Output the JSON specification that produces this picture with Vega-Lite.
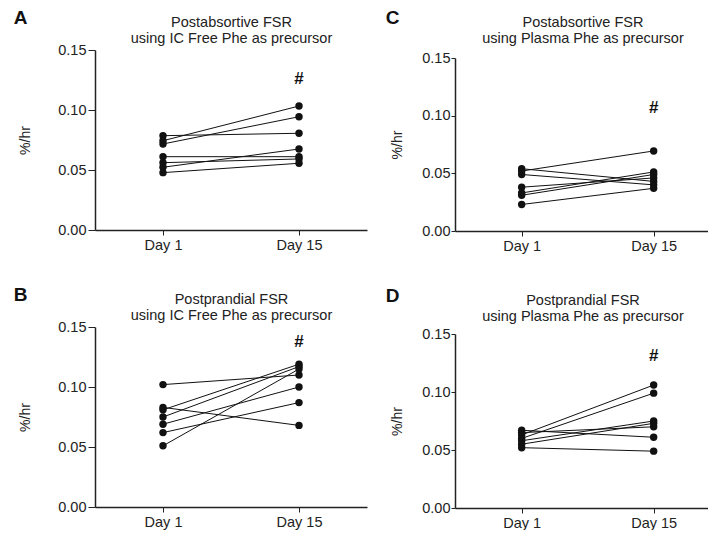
{
  "$schema": "https://vega.github.io/schema/vega-lite/v6.json",
  "padding": {"top": 9, "left": 13, "right": 0, "bottom": 0},
  "background": "white",
  "config": {
    "font": "Liberation Sans",
    "view": {"stroke": null},
    "axis": {"grid": false, "labelFont": "Liberation Sans", "titleFont": "Liberation Sans", "labelColor": "#222", "titleColor": "#222", "domainColor": "#222", "tickColor": "#222", "titleFontWeight": "normal", "labelFontSize": 14.5, "titleFontSize": 14},
    "title": {"font": "Liberation Sans", "color": "#111"}
  },
  "datasets": {
    "A": [
      {"subject": 1, "day": "Day 1", "fsr": 0.0786}, {"subject": 1, "day": "Day 15", "fsr": 0.0806},
      {"subject": 2, "day": "Day 1", "fsr": 0.0744}, {"subject": 2, "day": "Day 15", "fsr": 0.1033},
      {"subject": 3, "day": "Day 1", "fsr": 0.0717}, {"subject": 3, "day": "Day 15", "fsr": 0.0944},
      {"subject": 4, "day": "Day 1", "fsr": 0.0611}, {"subject": 4, "day": "Day 15", "fsr": 0.0611},
      {"subject": 5, "day": "Day 1", "fsr": 0.0561}, {"subject": 5, "day": "Day 15", "fsr": 0.0592},
      {"subject": 6, "day": "Day 1", "fsr": 0.0523}, {"subject": 6, "day": "Day 15", "fsr": 0.0675},
      {"subject": 7, "day": "Day 1", "fsr": 0.0478}, {"subject": 7, "day": "Day 15", "fsr": 0.0556}
    ],
    "B": [
      {"subject": 1, "day": "Day 1", "fsr": 0.102}, {"subject": 1, "day": "Day 15", "fsr": 0.110},
      {"subject": 2, "day": "Day 1", "fsr": 0.083}, {"subject": 2, "day": "Day 15", "fsr": 0.068},
      {"subject": 3, "day": "Day 1", "fsr": 0.081}, {"subject": 3, "day": "Day 15", "fsr": 0.119},
      {"subject": 4, "day": "Day 1", "fsr": 0.075}, {"subject": 4, "day": "Day 15", "fsr": 0.117},
      {"subject": 5, "day": "Day 1", "fsr": 0.069}, {"subject": 5, "day": "Day 15", "fsr": 0.100},
      {"subject": 6, "day": "Day 1", "fsr": 0.062}, {"subject": 6, "day": "Day 15", "fsr": 0.087},
      {"subject": 7, "day": "Day 1", "fsr": 0.051}, {"subject": 7, "day": "Day 15", "fsr": 0.115}
    ],
    "C": [
      {"subject": 1, "day": "Day 1", "fsr": 0.052}, {"subject": 1, "day": "Day 15", "fsr": 0.0694},
      {"subject": 2, "day": "Day 1", "fsr": 0.054}, {"subject": 2, "day": "Day 15", "fsr": 0.043},
      {"subject": 3, "day": "Day 1", "fsr": 0.049}, {"subject": 3, "day": "Day 15", "fsr": 0.040},
      {"subject": 4, "day": "Day 1", "fsr": 0.038}, {"subject": 4, "day": "Day 15", "fsr": 0.046},
      {"subject": 5, "day": "Day 1", "fsr": 0.033}, {"subject": 5, "day": "Day 15", "fsr": 0.0512},
      {"subject": 6, "day": "Day 1", "fsr": 0.031}, {"subject": 6, "day": "Day 15", "fsr": 0.049},
      {"subject": 7, "day": "Day 1", "fsr": 0.023}, {"subject": 7, "day": "Day 15", "fsr": 0.037}
    ],
    "D": [
      {"subject": 1, "day": "Day 1", "fsr": 0.067}, {"subject": 1, "day": "Day 15", "fsr": 0.061},
      {"subject": 2, "day": "Day 1", "fsr": 0.065}, {"subject": 2, "day": "Day 15", "fsr": 0.070},
      {"subject": 3, "day": "Day 1", "fsr": 0.063}, {"subject": 3, "day": "Day 15", "fsr": 0.106},
      {"subject": 4, "day": "Day 1", "fsr": 0.060}, {"subject": 4, "day": "Day 15", "fsr": 0.099},
      {"subject": 5, "day": "Day 1", "fsr": 0.058}, {"subject": 5, "day": "Day 15", "fsr": 0.075},
      {"subject": 6, "day": "Day 1", "fsr": 0.055}, {"subject": 6, "day": "Day 15", "fsr": 0.073},
      {"subject": 7, "day": "Day 1", "fsr": 0.052}, {"subject": 7, "day": "Day 15", "fsr": 0.049}
    ],
    "hashA": [{"day": "Day 15", "fsr": 0.1256, "label": "#"}],
    "hashB": [{"day": "Day 15", "fsr": 0.1375, "label": "#"}],
    "hashC": [{"day": "Day 15", "fsr": 0.1068, "label": "#"}],
    "hashD": [{"day": "Day 15", "fsr": 0.131, "label": "#"}]
  },
  "spacing": 18,
  "hconcat": [
    {
      "spacing": 34,
      "vconcat": [
        {
          "width": 272, "height": 180,
          "title": {"text": "A", "anchor": "start", "frame": "bounds", "fontSize": 19, "fontWeight": "bold", "offset": -14, "dx": -5},
          "layer": [
            {"data": {"name": "A"}, "mark": {"type": "line", "color": "#111", "strokeWidth": 1},
             "encoding": {
               "x": {"field": "day", "type": "ordinal", "scale": {"domain": ["Day 1", "Day 15"], "padding": 0.5}, "axis": {"title": null, "labelAngle": 0, "tickSize": 5, "labelPadding": 3, "domainWidth": 1.5}},
               "y": {"field": "fsr", "type": "quantitative", "scale": {"domain": [0, 0.15], "nice": false}, "axis": {"title": "%/hr", "values": [0, 0.05, 0.1, 0.15], "format": ".2f", "tickSize": 7, "labelPadding": 2, "titlePadding": 25, "domainWidth": 1.5}},
               "detail": {"field": "subject"}}},
            {"data": {"name": "A"}, "mark": {"type": "circle", "color": "#111", "size": 55, "opacity": 1},
             "encoding": {"x": {"field": "day", "type": "ordinal", "axis": null}, "y": {"field": "fsr", "type": "quantitative"}}},
            {"data": {"name": "hashA"}, "mark": {"type": "text", "fontSize": 17, "fontWeight": "bold", "color": "#111", "baseline": "middle"},
             "encoding": {"x": {"field": "day", "type": "ordinal", "axis": {"orient": "top", "labels": false, "ticks": false, "domain": false, "title": ["Postabsortive FSR", "using IC Free Phe as precursor"], "titleFontSize": 14.5, "titleLineHeight": 16.7, "titlePadding": 4}},
                          "y": {"field": "fsr", "type": "quantitative"}, "text": {"field": "label"}}}
          ],
          "resolve": {"axis": {"x": "independent"}}
        },
        {
          "width": 272, "height": 180,
          "title": {"text": "B", "anchor": "start", "frame": "bounds", "fontSize": 19, "fontWeight": "bold", "offset": -14, "dx": -5},
          "layer": [
            {"data": {"name": "B"}, "mark": {"type": "line", "color": "#111", "strokeWidth": 1},
             "encoding": {
               "x": {"field": "day", "type": "ordinal", "scale": {"domain": ["Day 1", "Day 15"], "padding": 0.5}, "axis": {"title": null, "labelAngle": 0, "tickSize": 5, "labelPadding": 3, "domainWidth": 1.5}},
               "y": {"field": "fsr", "type": "quantitative", "scale": {"domain": [0, 0.15], "nice": false}, "axis": {"title": "%/hr", "values": [0, 0.05, 0.1, 0.15], "format": ".2f", "tickSize": 7, "labelPadding": 2, "titlePadding": 25, "domainWidth": 1.5}},
               "detail": {"field": "subject"}}},
            {"data": {"name": "B"}, "mark": {"type": "circle", "color": "#111", "size": 55, "opacity": 1},
             "encoding": {"x": {"field": "day", "type": "ordinal", "axis": null}, "y": {"field": "fsr", "type": "quantitative"}}},
            {"data": {"name": "hashB"}, "mark": {"type": "text", "fontSize": 17, "fontWeight": "bold", "color": "#111", "baseline": "middle"},
             "encoding": {"x": {"field": "day", "type": "ordinal", "axis": {"orient": "top", "labels": false, "ticks": false, "domain": false, "title": ["Postprandial FSR", "using IC Free Phe as precursor"], "titleFontSize": 14.5, "titleLineHeight": 16.7, "titlePadding": 4}},
                          "y": {"field": "fsr", "type": "quantitative"}, "text": {"field": "label"}}}
          ],
          "resolve": {"axis": {"x": "independent"}}
        }
      ]
    },
    {
      "spacing": 34,
      "vconcat": [
        {
          "width": 255, "height": 181,
          "title": {"text": "C", "anchor": "start", "frame": "bounds", "fontSize": 19, "fontWeight": "bold", "offset": -14, "dx": -5},
          "layer": [
            {"data": {"name": "C"}, "mark": {"type": "line", "color": "#111", "strokeWidth": 1},
             "encoding": {
               "x": {"field": "day", "type": "ordinal", "scale": {"domain": ["Day 1", "Day 15"], "padding": 0.466, "align": 0.542}, "axis": {"title": null, "labelAngle": 0, "tickSize": 5, "labelPadding": 3, "domainWidth": 1.5}},
               "y": {"field": "fsr", "type": "quantitative", "scale": {"domain": [0, 0.15], "nice": false, "range": [181, 8]}, "axis": {"title": "%/hr", "values": [0, 0.05, 0.1, 0.15], "format": ".2f", "tickSize": 4, "labelPadding": 1, "titlePadding": 17, "domainWidth": 1.5}},
               "detail": {"field": "subject"}}},
            {"data": {"name": "C"}, "mark": {"type": "circle", "color": "#111", "size": 55, "opacity": 1},
             "encoding": {"x": {"field": "day", "type": "ordinal", "axis": null}, "y": {"field": "fsr", "type": "quantitative"}}},
            {"data": {"name": "hashC"}, "mark": {"type": "text", "fontSize": 17, "fontWeight": "bold", "color": "#111", "baseline": "middle"},
             "encoding": {"x": {"field": "day", "type": "ordinal", "axis": {"orient": "top", "labels": false, "ticks": false, "domain": false, "title": ["Postabsortive FSR", "using Plasma Phe as precursor"], "titleFontSize": 14.5, "titleLineHeight": 16.7, "titlePadding": 4}},
                          "y": {"field": "fsr", "type": "quantitative"}, "text": {"field": "label"}}}
          ],
          "resolve": {"axis": {"x": "independent"}}
        },
        {
          "width": 255, "height": 180,
          "title": {"text": "D", "anchor": "start", "frame": "bounds", "fontSize": 19, "fontWeight": "bold", "offset": -14, "dx": -5},
          "layer": [
            {"data": {"name": "D"}, "mark": {"type": "line", "color": "#111", "strokeWidth": 1},
             "encoding": {
               "x": {"field": "day", "type": "ordinal", "scale": {"domain": ["Day 1", "Day 15"], "padding": 0.466, "align": 0.542}, "axis": {"title": null, "labelAngle": 0, "tickSize": 5, "labelPadding": 3, "domainWidth": 1.5}},
               "y": {"field": "fsr", "type": "quantitative", "scale": {"domain": [0, 0.15], "nice": false, "range": [180, 6]}, "axis": {"title": "%/hr", "values": [0, 0.05, 0.1, 0.15], "format": ".2f", "tickSize": 4, "labelPadding": 1, "titlePadding": 17, "domainWidth": 1.5}},
               "detail": {"field": "subject"}}},
            {"data": {"name": "D"}, "mark": {"type": "circle", "color": "#111", "size": 55, "opacity": 1},
             "encoding": {"x": {"field": "day", "type": "ordinal", "axis": null}, "y": {"field": "fsr", "type": "quantitative"}}},
            {"data": {"name": "hashD"}, "mark": {"type": "text", "fontSize": 17, "fontWeight": "bold", "color": "#111", "baseline": "middle"},
             "encoding": {"x": {"field": "day", "type": "ordinal", "axis": {"orient": "top", "labels": false, "ticks": false, "domain": false, "title": ["Postprandial FSR", "using Plasma Phe as precursor"], "titleFontSize": 14.5, "titleLineHeight": 16.7, "titlePadding": 4}},
                          "y": {"field": "fsr", "type": "quantitative"}, "text": {"field": "label"}}}
          ],
          "resolve": {"axis": {"x": "independent"}}
        }
      ]
    }
  ]
}
